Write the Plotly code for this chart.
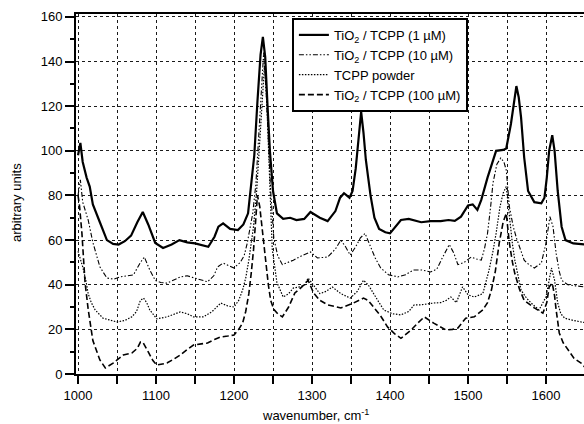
import plotly.graph_objects as go

# ---- data ----
x_1uM = [1000, 1003, 1006, 1011, 1015, 1019, 1028, 1037, 1045, 1052, 1060, 1068, 1076, 1083, 1090, 1099, 1109, 1120,
         1130, 1140, 1150, 1160, 1167, 1175, 1180, 1186, 1195, 1205, 1212, 1218, 1222, 1226, 1230, 1234, 1237, 1240,
         1243, 1246, 1250, 1255, 1263, 1272, 1280, 1290, 1298, 1310, 1320, 1330, 1336, 1341, 1348, 1352, 1356, 1360,
         1363, 1366, 1369, 1372, 1375, 1380, 1386, 1394, 1400, 1414, 1424, 1440, 1452, 1465, 1475, 1483, 1491, 1500,
         1506, 1512, 1517, 1525, 1532, 1536, 1545, 1549, 1555, 1559, 1562, 1565, 1568, 1572, 1577, 1585, 1594, 1598,
         1601, 1604, 1608, 1611, 1615, 1620, 1625, 1635, 1650]
y_1uM = [98, 103.5, 95, 88, 84, 76, 68, 60, 58.3, 58, 59.5, 62, 68, 72.6, 67, 58.7, 56.5, 58,
         60, 59, 58.5, 57.5, 57, 61.5, 66, 67.5, 65, 64.5, 67, 72, 84, 98, 122, 143, 151, 142,
         120, 100, 82, 72, 69.5, 70, 69, 69.5, 72.6, 70, 68.5, 73, 79, 81, 79, 82, 92, 108,
         117.5, 108, 96, 88, 80, 70, 65, 63.5, 63, 69, 69.5, 68, 68.5, 68.5, 69, 68.6, 70.5, 75.5,
         76, 73.5, 78, 88, 96, 100, 100.4, 101, 112, 123, 129, 124, 115, 97, 82, 77, 76.5, 79,
         88, 100, 107, 100, 82, 66, 60, 58.5, 58]

x_10uM = [1000, 1003, 1006, 1013, 1019, 1028, 1037, 1046, 1054, 1063, 1071, 1080, 1085, 1092, 1099, 1106, 1114, 1122,
          1131, 1140, 1150, 1158, 1166, 1174, 1179, 1186, 1193, 1200, 1208, 1213, 1217, 1221, 1224, 1228, 1232, 1235,
          1238, 1241, 1244, 1247, 1251, 1256, 1262, 1269, 1276, 1287, 1298, 1307, 1320, 1330, 1337, 1343, 1349, 1356,
          1362, 1368, 1375, 1381, 1388, 1398, 1410, 1420, 1430, 1441, 1452, 1460, 1467, 1476, 1482, 1487, 1495, 1504,
          1511, 1517, 1521, 1525, 1529, 1532, 1537, 1542, 1546, 1549, 1553, 1558, 1562, 1567, 1572, 1578, 1585, 1594,
          1600, 1605, 1609, 1613, 1617, 1620, 1628, 1638, 1650]
y_10uM = [80, 87, 77, 69, 59, 48, 43, 42.5, 43.5, 44, 44.4, 50, 52.4, 46.6, 42, 41, 40.7, 42,
          43.5, 44, 43, 42, 41.3, 44, 48, 49.7, 48.5, 47.5, 50, 53, 58.7, 66, 72, 85, 108, 130,
          144, 128, 105, 82, 61, 53, 49, 50, 51, 53, 54.7, 52, 52.4, 56, 60, 57, 53.3, 57,
          61, 63, 57, 52, 47.5, 44.5, 43.5, 44.5, 46.6, 46.6, 45.7, 47, 52, 58, 54, 49, 50, 52.4,
          51.5, 51, 56, 63, 75, 85.6, 94, 96.8, 95, 91.4, 75, 66, 61, 56, 51, 49, 47.5, 49.7,
          58.7, 70.5, 66, 54, 46, 42, 40, 39.5, 39]

x_powder = [1000, 1003, 1006, 1010, 1013, 1017, 1022, 1032, 1041, 1050, 1060, 1069, 1075, 1080, 1084, 1088, 1092, 1101,
            1114, 1122, 1131, 1140, 1148, 1161, 1172, 1183, 1192, 1200, 1206, 1211, 1215, 1219, 1222, 1225, 1229, 1233,
            1236, 1239, 1242, 1245, 1247, 1249, 1255, 1263, 1270, 1276, 1284, 1291, 1295, 1300, 1310, 1318, 1326, 1337,
            1349, 1358, 1366, 1372, 1379, 1386, 1392, 1403, 1414, 1424, 1431, 1440, 1456, 1465, 1472, 1478, 1485, 1493,
            1500, 1508, 1519, 1527, 1532, 1536, 1541, 1545, 1549, 1553, 1557, 1560, 1564, 1568, 1575, 1581, 1591, 1600,
            1604, 1607, 1611, 1615, 1619, 1624, 1635, 1645, 1650]
y_powder = [55, 52, 48, 42, 36, 32, 28.7, 25, 24, 23.3, 24, 25.6, 28, 33, 34, 32, 28.7, 24.7,
            25.6, 26.5, 27.8, 27, 25.6, 25.6, 28, 31.8, 30.5, 30, 33, 37.6, 43, 51, 58, 66, 82, 105,
            125, 138, 122, 95, 75, 56, 41, 34.5, 36, 38.5, 39, 40, 43, 40.8, 36, 37, 39, 36,
            34, 37, 42, 40, 36.3, 32, 28.7, 27, 26.5, 28, 31, 31, 31.8, 32, 33, 34.5, 32, 39,
            35.5, 34.5, 36, 46.6, 55, 63, 75, 81, 84, 70, 58, 51, 44, 37.6, 34, 31.8, 28.7, 34.5,
            42, 47.5, 42, 31.8, 27, 25, 24, 23.3, 23]

x_100uM = [1000, 1002, 1005, 1009, 1013, 1019, 1028, 1035, 1045, 1052, 1058, 1069, 1076, 1080, 1083, 1090, 1096, 1101,
           1114, 1122, 1131, 1140, 1148, 1158, 1166, 1175, 1183, 1192, 1200, 1206, 1211, 1215, 1219, 1222, 1225, 1228,
           1230, 1233, 1237, 1240, 1244, 1247, 1251, 1256, 1262, 1270, 1278, 1287, 1295, 1302, 1310, 1320, 1337, 1353,
           1366, 1372, 1379, 1388, 1397, 1406, 1414, 1427, 1436, 1444, 1456, 1465, 1472, 1480, 1487, 1497, 1508, 1519,
           1525, 1530, 1535, 1540, 1545, 1549, 1553, 1557, 1560, 1566, 1572, 1585, 1596, 1601, 1604, 1608, 1611, 1613,
           1617, 1622, 1628, 1636, 1645, 1650]
y_100uM = [80, 75, 63, 41, 29, 15, 6.3, 2.7, 4.9, 7, 8.5, 9.4, 11.5, 14.3, 14.3, 9.9, 6, 4,
           4.9, 6.5, 8.5, 11, 13, 13.5, 13.9, 15.5, 16.6, 17, 17.5, 20, 22.8, 28, 36, 45, 55.6, 70,
           80, 75, 62, 51, 40, 33, 29, 27, 25.6, 30, 36.3, 39, 42, 36.3, 33, 31, 29.6, 31.8,
           34, 33, 30, 26, 21, 18, 16, 19.7, 23, 25.6, 22.8, 21, 19.7, 20, 20.6, 25, 25.6, 28.7,
           32, 37.6, 46, 58.7, 68, 72, 58.7, 50, 45, 38, 33, 29.6, 27.3, 32, 39, 40.7, 35, 28.7,
           18.4, 14, 10.8, 7, 4.9, 3]

names = ["TiO<sub>2</sub> / TCPP (1 µM)", "TiO<sub>2</sub> / TCPP (10 µM)", "TCPP powder",
         "TiO<sub>2</sub> / TCPP (100 µM)"]

FONT = "Liberation Sans, Arial, Helvetica, sans-serif"
GRID = "#1a1a1a"

fig = go.Figure()
fig.add_trace(go.Scatter(x=x_1uM, y=y_1uM, mode="lines", name=names[0],
                         line=dict(color="black", width=2.2)))
fig.add_trace(go.Scatter(x=x_10uM, y=y_10uM, mode="lines", name=names[1],
                         line=dict(color="black", width=1.1, dash="5px,2px,1.5px,2px,1.5px,2px")))
fig.add_trace(go.Scatter(x=x_powder, y=y_powder, mode="lines", name=names[2],
                         line=dict(color="black", width=1.2, dash="1.5px,1.5px")))
fig.add_trace(go.Scatter(x=x_100uM, y=y_100uM, mode="lines", name=names[3],
                         line=dict(color="black", width=1.6, dash="6px,3px")))

fig.update_layout(
    width=584, height=424,
    margin=dict(l=76, r=0, t=14, b=50),
    paper_bgcolor="white", plot_bgcolor="white",
    font=dict(family=FONT, size=13, color="black"),
    showlegend=True,
    legend=dict(x=0.425, y=0.989, xanchor="left", yanchor="top",
                bgcolor="white", bordercolor="black", borderwidth=2,
                font=dict(size=13), tracegroupgap=0, itemwidth=30,
                entrywidth=190, entrywidthmode="pixels"),
    xaxis=dict(range=[997.4, 1648.7], tickmode="linear", tick0=1000, dtick=100,
               ticks="outside", ticklen=8, tickwidth=1.5, tickcolor="black",
               showline=True, linecolor="black", linewidth=2, mirror=True,
               showgrid=True, gridcolor=GRID, griddash="dot", gridwidth=1,
               zeroline=False,
               minor=dict(dtick=50, ticks="outside", ticklen=8, tickwidth=1.5, tickcolor="black",
                          showgrid=True, gridcolor=GRID, griddash="dot", gridwidth=1),
               tickfont=dict(size=13)),
    yaxis=dict(range=[0, 161.3], tickmode="linear", tick0=0, dtick=20,
               ticks="outside", ticklen=9, tickwidth=1.5, tickcolor="black",
               showline=True, linecolor="black", linewidth=2,
               showgrid=True, gridcolor=GRID, griddash="dot", gridwidth=1,
               zeroline=False,
               minor=dict(dtick=10, ticks="outside", ticklen=4, tickwidth=1.5, tickcolor="black",
                          showgrid=False),
               tickfont=dict(size=13)),
    annotations=[
        dict(text="arbitrary units", xref="paper", yref="paper", x=-0.118, y=0.475,
             xanchor="center", yanchor="middle", textangle=-90, showarrow=False,
             font=dict(size=13)),
        dict(text="wavenumber, cm<sup>-1</sup>", xref="paper", yref="paper", x=0.362, y=-0.113,
             xanchor="left", yanchor="middle", showarrow=False, font=dict(size=13)),
    ],
)

fig.write_html("out.html")
